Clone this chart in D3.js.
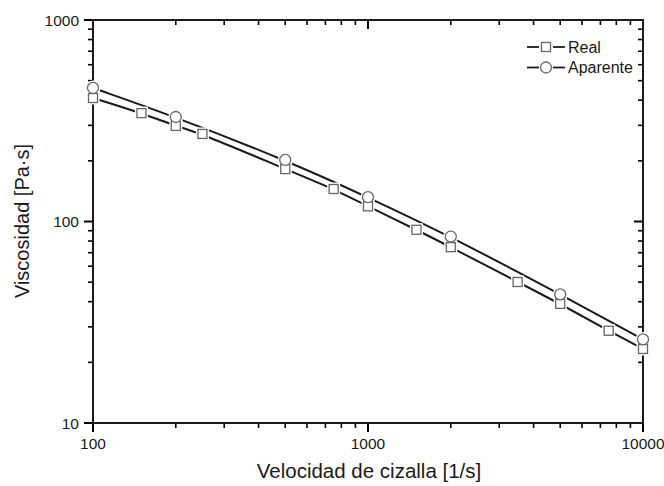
<!DOCTYPE html>
<html><head><meta charset="utf-8">
<script src="https://cdn.jsdelivr.net/npm/d3@7"></script>
<style>body{margin:0;background:#fff}svg{display:block}text{font-family:"Liberation Sans",Arial,sans-serif;fill:#1a1a1a}</style>
</head><body>
<script>
const realX = [100,150,200,250,500,750,1000,1500,2000,3500,5000,7500,10000];
const realY = [410,345,298,272,182,145,119,91,74.6,50.1,39,28.7,23.3];
const apX = [100,200,500,1000,2000,5000,10000];
const apY = [460,330,202,132,84.2,43.5,26.0];
const xTickLabels = [100,1000,10000];
const yTickLabels = [10,100,1000];
const seriesNames = ["Real","Aparente"];

const W=664,H=486;
const m={l:93,r:21,t:20,b:63};
const svg=d3.select("body").append("svg").attr("width",W).attr("height",H);
const x=d3.scaleLog().domain([100,10000]).range([m.l,W-m.r]);
const y=d3.scaleLog().domain([10,1000]).range([H-m.b,m.t]);

const minorX=[];for(let d=100;d<10000;d*=10)for(let k=2;k<=9;k++)minorX.push(d*k);
const minorY=[];for(let d=10;d<1000;d*=10)for(let k=2;k<=9;k++)minorY.push(d*k);
const X0=m.l,X1=W-m.r,Y0=H-m.b,Y1=m.t;
const tg=svg.append("g");
function ticks(vals,len,sw){
  vals.forEach(v=>{
    const px=x(v);
    tg.append("line").attr("x1",px).attr("x2",px).attr("y1",Y0).attr("y2",Y0+len).attr("stroke","#000").attr("stroke-width",sw);
    tg.append("line").attr("x1",px).attr("x2",px).attr("y1",Y1).attr("y2",Y1+len).attr("stroke","#000").attr("stroke-width",sw);
  });
}
function yticks(vals,len,sw){
  vals.forEach(v=>{
    const py=y(v);
    tg.append("line").attr("x1",X0).attr("x2",X0-len).attr("y1",py).attr("y2",py).attr("stroke","#000").attr("stroke-width",sw);
    tg.append("line").attr("x1",X1).attr("x2",X1-len).attr("y1",py).attr("y2",py).attr("stroke","#000").attr("stroke-width",sw);
  });
}
ticks(xTickLabels,9,2);ticks(minorX,5,1.6);
yticks(yTickLabels,9,2);yticks(minorY,5,1.6);

svg.append("rect").attr("x",X0).attr("y",Y1).attr("width",X1-X0).attr("height",Y0-Y1)
 .attr("fill","none").attr("stroke","#1a1a1a").attr("stroke-width",2);

svg.append("g").selectAll("text").data(xTickLabels).join("text")
  .attr("x",d=>x(d)).attr("y",Y0+26).attr("text-anchor","middle").style("font-size","15.5px").text(d=>d);
svg.append("g").selectAll("text").data(yTickLabels).join("text")
  .attr("x",X0-14).attr("y",d=>y(d)+5.5).attr("text-anchor","end").style("font-size","15.5px").text(d=>d);

const line=d3.line().x(d=>x(d[0])).y(d=>y(d[1])).curve(d3.curveBasis);
const real=realX.map((v,i)=>[v,realY[i]]);
const ap=apX.map((v,i)=>[v,apY[i]]);
const plot=svg.append("g");
[real,ap].forEach(data=>{
  plot.append("path").datum(data).attr("d",line).attr("fill","none").attr("stroke","#1a1a1a").attr("stroke-width",2);
});
const sq=9,cr=5.5;
// white halos to create gaps in the lines around markers
plot.selectAll(".sqh").data(real).join("rect")
  .attr("x",d=>x(d[0])-sq/2-2).attr("y",d=>y(d[1])-sq/2-2).attr("width",sq+4).attr("height",sq+4).attr("fill","#fff");
plot.selectAll(".cih").data(ap).join("circle")
  .attr("cx",d=>x(d[0])).attr("cy",d=>y(d[1])).attr("r",cr+2).attr("fill","#fff");
plot.selectAll(".sq").data(real).join("rect")
  .attr("x",d=>x(d[0])-sq/2).attr("y",d=>y(d[1])-sq/2).attr("width",sq).attr("height",sq)
  .attr("fill","#fff").attr("stroke","#666").attr("stroke-width",1.3);
plot.selectAll(".ci").data(ap).join("circle")
  .attr("cx",d=>x(d[0])).attr("cy",d=>y(d[1])).attr("r",cr)
  .attr("fill","#fff").attr("stroke","#666").attr("stroke-width",1.3);

const lg=svg.append("g");
seriesNames.forEach((n,i)=>{
  const yy=47+i*20.5;
  lg.append("line").attr("x1",527).attr("x2",539).attr("y1",yy).attr("y2",yy).attr("stroke","#1a1a1a").attr("stroke-width",1.8);
  lg.append("line").attr("x1",553).attr("x2",565).attr("y1",yy).attr("y2",yy).attr("stroke","#1a1a1a").attr("stroke-width",1.8);
  if(i===0) lg.append("rect").attr("x",541.5).attr("y",yy-4.5).attr("width",9).attr("height",9).attr("fill","#fff").attr("stroke","#666").attr("stroke-width",1.3);
  else lg.append("circle").attr("cx",546).attr("cy",yy).attr("r",5.5).attr("fill","#fff").attr("stroke","#666").attr("stroke-width",1.3);
  lg.append("text").attr("x",568).attr("y",yy+5.5).style("font-size","16px").text(n);
});

svg.append("text").attr("x",369).attr("y",478).attr("text-anchor","middle").style("font-size","20.5px").text("Velocidad de cizalla [1/s]");
svg.append("text").attr("transform",`translate(29,221) rotate(-90)`).attr("text-anchor","middle").style("font-size","20px").text("Viscosidad [Pa·s]");
</script>
</body></html>
